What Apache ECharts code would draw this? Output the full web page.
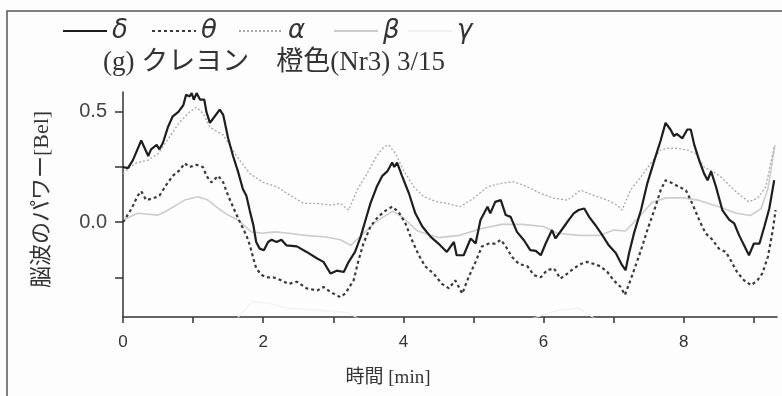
<!DOCTYPE html>
<html>
<head>
<meta charset="utf-8">
<script src="https://cdn.jsdelivr.net/npm/echarts@6/dist/echarts.min.js"></script>
<style>
html,body{margin:0;padding:0;background:#fdfdfd;}
#chart{width:782px;height:396px;}
</style>
</head>
<body>
<div id="chart"></div>
<script>
// ---- data (time [min], power [Bel]) ----
const seriesNames = ['δ', 'θ', 'α', 'β', 'γ'];
const xTickValues = [0, 1, 2, 3, 4, 5, 6, 7, 8, 9];
const xLabelValues = [0, 2, 4, 6, 8];
const yTickValues = [-0.25, 0, 0.25, 0.5];
const yLabelValues = [0, 0.5];
const titleText = '(g) クレヨン　橙色(Nr3) 3/15';
const xName = '時間 [min]';
const yName = '脳波のパワー[Bel]';

const deltaData = [
[0,0.25],[0.07,0.245],[0.14,0.28],[0.26,0.37],[0.36,0.30],[0.40,0.33],[0.48,0.35],[0.52,0.33],[0.57,0.36],[0.64,0.43],
[0.71,0.48],[0.79,0.50],[0.86,0.53],[0.90,0.577],[0.95,0.57],[0.98,0.585],[1.01,0.555],[1.05,0.585],[1.10,0.555],[1.16,0.555],
[1.19,0.50],[1.24,0.45],[1.31,0.48],[1.38,0.51],[1.43,0.486],[1.50,0.38],[1.57,0.30],[1.64,0.23],[1.71,0.15],[1.76,0.12],
[1.81,0.05],[1.86,-0.014],[1.90,-0.09],[1.95,-0.12],[2.01,-0.127],[2.07,-0.09],[2.12,-0.08],[2.19,-0.09],[2.26,-0.08],[2.33,-0.105],
[2.48,-0.11],[2.62,-0.135],[2.77,-0.165],[2.86,-0.18],[2.96,-0.233],[3.05,-0.22],[3.15,-0.226],[3.22,-0.18],[3.31,-0.135],[3.39,-0.067],
[3.46,0.01],[3.53,0.085],[3.62,0.16],[3.70,0.21],[3.77,0.23],[3.84,0.27],[3.87,0.25],[3.91,0.27],[3.98,0.21],[4.08,0.13],
[4.17,0.04],[4.27,-0.02],[4.39,-0.067],[4.50,-0.097],[4.62,-0.135],[4.72,-0.09],[4.76,-0.15],[4.86,-0.15],[4.96,-0.074],[5.03,-0.097],
[5.10,0.01],[5.20,0.07],[5.24,0.04],[5.31,0.092],[5.39,0.10],[5.46,0.032],[5.53,0.024],[5.62,-0.044],[5.72,-0.082],[5.81,-0.127],
[5.89,-0.13],[5.96,-0.15],[6.03,-0.097],[6.12,-0.036],[6.17,-0.074],[6.27,-0.03],[6.36,0.01],[6.43,0.04],[6.50,0.055],[6.58,0.062],
[6.65,0.024],[6.74,-0.014],[6.84,-0.06],[6.93,-0.105],[7.03,-0.14],[7.12,-0.195],[7.17,-0.218],[7.22,-0.14],[7.29,-0.05],[7.39,0.055],
[7.48,0.176],[7.58,0.28],[7.67,0.37],[7.74,0.45],[7.81,0.42],[7.86,0.39],[7.90,0.40],[7.98,0.38],[8.05,0.42],[8.10,0.42],
[8.15,0.35],[8.22,0.28],[8.29,0.22],[8.34,0.19],[8.39,0.23],[8.46,0.16],[8.55,0.055],[8.65,0.01],[8.72,-0.006],[8.79,-0.06],
[8.86,-0.105],[8.93,-0.15],[9.00,-0.097],[9.08,-0.097],[9.15,-0.02],[9.22,0.062],[9.29,0.19]
];

const thetaData = [
[0,0.0],[0.12,0.06],[0.21,0.12],[0.26,0.14],[0.33,0.10],[0.43,0.108],[0.52,0.12],[0.62,0.17],[0.71,0.21],[0.81,0.236],
[0.88,0.267],[0.95,0.25],[1.05,0.26],[1.14,0.25],[1.19,0.21],[1.26,0.18],[1.36,0.21],[1.43,0.18],[1.50,0.12],[1.60,0.047],
[1.69,-0.014],[1.76,-0.06],[1.81,-0.105],[1.86,-0.165],[1.90,-0.21],[1.98,-0.24],[2.05,-0.25],[2.14,-0.25],[2.26,-0.264],[2.36,-0.28],
[2.48,-0.27],[2.62,-0.30],[2.77,-0.31],[2.86,-0.294],[2.96,-0.317],[3.10,-0.34],[3.17,-0.324],[3.29,-0.264],[3.36,-0.173],[3.43,-0.097],
[3.53,-0.02],[3.62,0.017],[3.72,0.047],[3.84,0.07],[3.93,0.047],[4.03,-0.006],[4.12,-0.08],[4.22,-0.15],[4.31,-0.20],[4.43,-0.233],
[4.55,-0.28],[4.65,-0.30],[4.74,-0.264],[4.84,-0.324],[4.93,-0.25],[5.03,-0.18],[5.12,-0.11],[5.22,-0.097],[5.31,-0.097],[5.39,-0.08],
[5.46,-0.11],[5.55,-0.158],[5.65,-0.19],[5.77,-0.20],[5.86,-0.24],[5.96,-0.25],[6.05,-0.218],[6.15,-0.21],[6.24,-0.256],[6.34,-0.233],
[6.43,-0.21],[6.53,-0.19],[6.62,-0.18],[6.72,-0.19],[6.81,-0.20],[6.91,-0.226],[7.00,-0.264],[7.10,-0.294],[7.16,-0.33],[7.22,-0.28],
[7.29,-0.218],[7.39,-0.127],[7.48,-0.036],[7.58,0.055],[7.67,0.145],[7.74,0.19],[7.84,0.176],[7.93,0.16],[8.03,0.145],[8.12,0.085],
[8.22,0.01],[8.31,-0.05],[8.41,-0.08],[8.50,-0.12],[8.60,-0.135],[8.67,-0.173],[8.76,-0.226],[8.86,-0.264],[8.96,-0.286],[9.05,-0.264],
[9.12,-0.233],[9.20,-0.158],[9.27,-0.036],[9.31,0.055]
];

const alphaData = [
[0,0.22],[0.1,0.25],[0.2,0.27],[0.35,0.28],[0.5,0.31],[0.65,0.38],[0.8,0.45],[0.95,0.50],[1.05,0.52],[1.15,0.49],
[1.24,0.43],[1.43,0.395],[1.62,0.30],[1.81,0.22],[2.0,0.18],[2.2,0.16],[2.39,0.12],[2.58,0.085],[2.77,0.085],[2.96,0.077],
[3.1,0.085],[3.22,0.055],[3.34,0.145],[3.48,0.22],[3.62,0.30],[3.72,0.34],[3.79,0.35],[3.89,0.31],[4.0,0.236],[4.15,0.16],
[4.29,0.115],[4.48,0.092],[4.62,0.085],[4.81,0.07],[5.0,0.108],[5.2,0.16],[5.39,0.176],[5.58,0.183],[5.77,0.16],[5.96,0.13],
[6.15,0.108],[6.34,0.10],[6.53,0.145],[6.72,0.12],[6.91,0.10],[7.05,0.077],[7.12,0.055],[7.24,0.145],[7.39,0.206],[7.53,0.267],
[7.67,0.327],[7.77,0.335],[7.90,0.335],[8.05,0.327],[8.17,0.31],[8.29,0.25],[8.41,0.23],[8.53,0.206],[8.67,0.16],[8.81,0.12],
[8.93,0.092],[9.05,0.108],[9.17,0.16],[9.29,0.34]
];

const betaData = [
[0,0.01],[0.21,0.04],[0.5,0.032],[0.6,0.047],[0.88,0.10],[1.07,0.115],[1.21,0.10],[1.36,0.062],[1.5,0.032],[1.64,0.01],
[1.83,-0.044],[1.98,-0.05],[2.17,-0.044],[2.36,-0.05],[2.6,-0.06],[2.9,-0.067],[3.1,-0.08],[3.25,-0.105],[3.4,-0.06],[3.6,0.0],
[3.85,0.05],[4.0,0.02],[4.2,-0.04],[4.5,-0.07],[4.8,-0.06],[5.1,-0.03],[5.4,-0.01],[5.7,-0.01],[6.0,-0.02],[6.2,-0.05],
[6.5,-0.06],[6.8,-0.06],[7.0,-0.036],[7.17,-0.04],[7.35,0.02],[7.55,0.09],[7.75,0.11],[8.0,0.11],[8.2,0.10],[8.5,0.07],
[8.75,0.04],[8.95,0.03],[9.1,0.06],[9.2,0.15],[9.3,0.35]
];

const gammaData = [
[0,-0.5],[1.5,-0.48],[1.85,-0.36],[2.1,-0.37],[2.35,-0.39],[2.8,-0.40],[3.2,-0.41],[3.5,-0.46],[5.5,-0.47],[6.2,-0.40],
[6.5,-0.39],[6.8,-0.45],[9.3,-0.47]
];

const allData = [deltaData, thetaData, alphaData, betaData, gammaData];

// ---- styles ----
const lineStyles = [
  {color:'#1e1e1e', width:2.2, type:'solid'},
  {color:'#3a3a3a', width:2.2, type:[3,3]},
  {color:'#a8a8a8', width:1.3, type:[2,2]},
  {color:'#cdcdcd', width:1.6, type:'solid'},
  {color:'#f1f1f1', width:1.2, type:'solid'}
];
const legendLefts = [57, 146, 233, 328, 402];

const chart = echarts.init(document.getElementById('chart'));
const serifFont = '"Liberation Serif", "DejaVu Serif", "Noto Sans CJK JP", serif';
const sansFont = '"Liberation Sans Narrow", "Liberation Sans", Arial, sans-serif';

const option = {
  backgroundColor: '#fdfdfd',
  animation: false,
  title: {
    text: titleText,
    left: 98,
    top: 44,
    textStyle: {fontFamily: serifFont, fontSize: 27, fontWeight: 'normal', color: '#333'}
  },
  legend: seriesNames.map((n, i) => ({
    data: [n],
    left: legendLefts[i],
    top: 13,
    itemWidth: 44,
    itemHeight: 14,
    itemGap: 4,
    itemStyle: {opacity: 0, borderWidth: 0},
    textStyle: {fontFamily: '"DejaVu Sans", "Liberation Sans", sans-serif', fontStyle: 'italic', fontSize: 26, color: '#333'}
  })),
  grid: {left: 123, right: 5, top: 92, bottom: 79},
  xAxis: {
    type: 'value',
    min: 0,
    max: 9.33,
    name: xName,
    nameLocation: 'middle',
    nameGap: 52,
    nameTextStyle: {fontFamily: serifFont, fontSize: 19, color: '#333', padding: [0, 124, 0, 0]},
    axisLine: {show: true, onZero: false, lineStyle: {color: '#333', width: 1.5}},
    axisTick: {show: true, customValues: xTickValues, length: 6, lineStyle: {color: '#333', width: 1.5}},
    axisLabel: {customValues: xLabelValues, fontFamily: sansFont, fontSize: 17, color: '#333', margin: 17},
    splitLine: {show: false}
  },
  yAxis: {
    type: 'value',
    min: -0.43,
    max: 0.59,
    name: yName,
    nameLocation: 'middle',
    nameGap: 70,
    nameRotate: 90,
    nameTextStyle: {fontFamily: serifFont, fontSize: 22, color: '#333', padding: [0, 0, 0, 10]},
    axisLine: {show: true, onZero: false, lineStyle: {color: '#333', width: 1.5}},
    axisTick: {show: true, customValues: yTickValues, length: 8, lineStyle: {color: '#333', width: 1.5}},
    axisLabel: {customValues: yLabelValues, fontFamily: sansFont, fontSize: 20, color: '#444', margin: 16,
      formatter: v => v.toFixed(1)},
    splitLine: {show: false}
  },
  graphic: [{
    type: 'rect',
    z: -10,
    shape: {x: 7, y: 11, width: 900, height: 500},
    style: {fill: 'none', stroke: '#555', lineWidth: 1.5}
  }],
  series: seriesNames.map((n, i) => ({
    name: n,
    type: 'line',
    data: allData[i],
    symbol: 'none',
    showSymbol: false,
    clip: true,
    z: 10 - i,
    lineStyle: lineStyles[i],
    itemStyle: {color: lineStyles[i].color}
  }))
};
chart.setOption(option);
</script>
</body>
</html>
